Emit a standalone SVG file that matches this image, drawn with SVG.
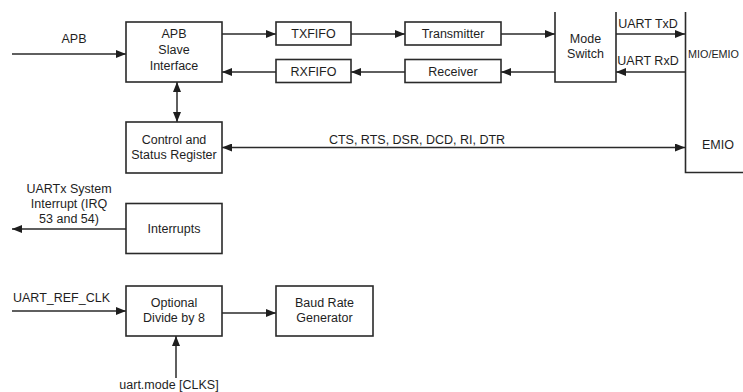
<svg xmlns="http://www.w3.org/2000/svg" width="743" height="392" viewBox="0 0 743 392">
<style>
.box{fill:#fff;stroke:#2a2a2a;stroke-width:1.6}
.ln{fill:none;stroke:#2a2a2a;stroke-width:1.5}
text{font-family:"Liberation Sans",Arial,sans-serif;font-size:12.5px;fill:#1e1e1e}
.c{text-anchor:middle}
</style>
<defs>
<marker id="ah" viewBox="0 0 10 8" refX="10" refY="4" markerWidth="10" markerHeight="8" markerUnits="userSpaceOnUse" orient="auto-start-reverse">
<path d="M0,0 L10,4 L0,8 Z" fill="#1e1e1e"/>
</marker>
</defs>
<rect width="743" height="392" fill="#fff"/>
<g id="connectors">
<path class="ln" d="M12,54 H126" marker-end="url(#ah)"/>
<path class="ln" d="M222,34 H276" marker-end="url(#ah)"/>
<path class="ln" d="M351,34 H405" marker-end="url(#ah)"/>
<path class="ln" d="M501,34 H555" marker-end="url(#ah)"/>
<path class="ln" d="M616,34 H685" marker-end="url(#ah)"/>
<path class="ln" d="M685,72 H616" marker-end="url(#ah)"/>
<path class="ln" d="M555,72 H501" marker-end="url(#ah)"/>
<path class="ln" d="M405,72 H351" marker-end="url(#ah)"/>
<path class="ln" d="M276,72 H222" marker-end="url(#ah)"/>
<path class="ln" d="M177,82 V122" marker-start="url(#ah)" marker-end="url(#ah)"/>
<path class="ln" d="M222,147.5 H685" marker-start="url(#ah)" marker-end="url(#ah)"/>
<path class="ln" d="M126,229 H12" marker-end="url(#ah)"/>
<path class="ln" d="M12,311 H126" marker-end="url(#ah)"/>
<path class="ln" d="M222,313 H276" marker-end="url(#ah)"/>
<path class="ln" d="M176,378 V336" marker-end="url(#ah)"/>
<text x="74" y="43" class="c">APB</text>
<text x="648" y="28" class="c">UART TxD</text>
<text x="648" y="65" class="c">UART RxD</text>
<text x="417" y="144" class="c">CTS, RTS, DSR, DCD, RI, DTR</text>
<text x="69" y="193" class="c">UARTx System</text>
<text x="69" y="208" class="c">Interrupt (IRQ</text>
<text x="69" y="223" class="c">53 and 54)</text>
<text x="13" y="302">UART_REF_CLK</text>
<text x="169" y="388.5" class="c">uart.mode [CLKS]</text>
</g>
<g id="apb">
<rect class="box" x="126" y="22" width="96" height="60"/>
<text x="174" y="38" class="c">APB</text>
<text x="174" y="54" class="c">Slave</text>
<text x="174" y="70" class="c">Interface</text>
</g>
<g id="txfifo">
<rect class="box" x="276" y="22" width="75" height="23"/>
<text x="313.5" y="38" class="c">TXFIFO</text>
</g>
<g id="rxfifo">
<rect class="box" x="276" y="59.5" width="75" height="23"/>
<text x="313.5" y="75.5" class="c">RXFIFO</text>
</g>
<g id="transmitter">
<rect class="box" x="405" y="22" width="96" height="23"/>
<text x="453" y="38" class="c">Transmitter</text>
</g>
<g id="receiver">
<rect class="box" x="405" y="59.5" width="96" height="23"/>
<text x="453" y="75.5" class="c">Receiver</text>
</g>
<g id="modeswitch">
<path class="box" d="M555,12 V82 H616 V12"/>
<text x="585.5" y="43" class="c">Mode</text>
<text x="585.5" y="58" class="c">Switch</text>
</g>
<g id="mioemio">
<path class="box" d="M685.5,12 V172.5 H745"/>
<text x="688" y="58" style="font-size:10.8px">MIO/EMIO</text>
<text x="718" y="149" class="c">EMIO</text>
</g>
<g id="csr">
<rect class="box" x="126" y="122" width="96" height="51"/>
<text x="174" y="144" class="c">Control and</text>
<text x="174" y="159" class="c">Status Register</text>
</g>
<g id="interrupts">
<rect class="box" x="126" y="203.5" width="96" height="50"/>
<text x="174" y="233" class="c">Interrupts</text>
</g>
<g id="divide">
<rect class="box" x="126" y="286" width="96" height="50"/>
<text x="174" y="307" class="c">Optional</text>
<text x="174" y="322" class="c">Divide by 8</text>
</g>
<g id="baud">
<rect class="box" x="276" y="286" width="97" height="50"/>
<text x="324.5" y="307" class="c">Baud Rate</text>
<text x="324.5" y="322" class="c">Generator</text>
</g>
</svg>
